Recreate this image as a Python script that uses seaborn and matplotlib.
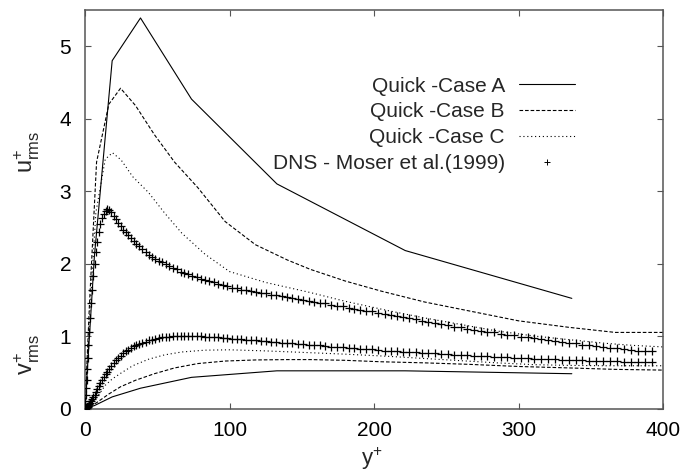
import matplotlib
matplotlib.use("Agg")
import matplotlib.pyplot as plt
from matplotlib.lines import Line2D
import seaborn as sns

# ---- QUICK scheme, case A (coarse mesh) ----
a_yplus = [0.0, 6.5, 18.8, 38.4, 73.7, 132.8, 221.6, 336.9]
a_urms = [0.0, 2.1, 4.80, 5.39, 4.27, 3.10, 2.18, 1.52]
a_vrms = [0.0, 0.04, 0.16, 0.28, 0.43, 0.52, 0.52, 0.48]

# ---- QUICK scheme, case B ----
b_yplus = [0.0, 3.0, 8.0, 16.5, 24.6, 35.0, 48.0, 62.0, 78.0, 97.0, 118.0,
           140.0, 156.0, 180.0, 205.0, 235.0, 265.0, 300.0, 335.0, 367.0, 400.0]
b_urms = [0.0, 1.4, 3.4, 4.20, 4.42, 4.18, 3.78, 3.40, 3.05, 2.58, 2.26,
          2.05, 1.92, 1.76, 1.62, 1.47, 1.35, 1.21, 1.12, 1.05, 1.05]
b_vrms = [0.0, 0.02, 0.08, 0.20, 0.30, 0.39, 0.48, 0.56, 0.62, 0.655, 0.67,
          0.675, 0.675, 0.665, 0.645, 0.63, 0.61, 0.58, 0.56, 0.54, 0.53]

# ---- QUICK scheme, case C ----
c_yplus = [0.0, 3.0, 7.5, 14.0, 19.0, 25.0, 33.0, 44.0, 55.0, 67.0, 83.0, 100.0,
           125.0, 156.0, 180.0, 210.0, 235.0, 260.0, 285.0, 311.0, 335.0, 360.0,
           380.0, 400.0]
c_urms = [0.0, 1.2, 2.7, 3.44, 3.53, 3.43, 3.20, 2.98, 2.70, 2.42, 2.13, 1.89,
          1.74, 1.60, 1.48, 1.35, 1.25, 1.16, 1.07, 1.00, 0.95, 0.90, 0.87, 0.85]
c_vrms = [0.0, 0.03, 0.13, 0.32, 0.41, 0.49, 0.59, 0.68, 0.74, 0.78, 0.805, 0.81,
          0.795, 0.77, 0.75, 0.72, 0.69, 0.66, 0.63, 0.605, 0.595, 0.59, 0.59, 0.59]

# ---- DNS, Moser, Kim & Mansour (1999), Re_tau = 395 ----
dns_yplus = [
    0.0, 0.03, 0.12, 0.27, 0.47, 0.74, 1.06, 1.45, 1.89, 2.39,
    2.95, 3.57, 4.25, 4.98, 5.78, 6.63, 7.54, 8.51, 9.53, 10.61,
    11.76, 12.95, 14.21, 15.52, 16.89, 18.32, 19.80, 21.34, 22.93, 24.58,
    26.28, 28.04, 29.86, 31.73, 33.65, 35.63, 37.66, 39.74, 41.88, 44.07,
    46.32, 48.61, 50.96, 53.36, 55.81, 58.31, 60.86, 63.46, 66.10, 68.80,
    71.55, 74.35, 77.19, 80.08, 83.02, 86.00, 89.04, 92.11, 95.23, 98.40,
    101.61, 104.86, 108.16, 111.50, 114.89, 118.31, 121.78, 125.28, 128.83, 132.41,
    136.04, 139.70, 143.41, 147.15, 150.92, 154.73, 158.58, 162.47, 166.39, 170.34,
    174.32, 178.34, 182.39, 186.48, 190.59, 194.73, 198.91, 203.11, 207.34, 211.60,
    215.88, 220.20, 224.54, 228.90, 233.29, 237.70, 242.14, 246.59, 251.08, 255.58,
    260.10, 264.64, 269.20, 273.78, 278.38, 282.99, 287.63, 292.27, 296.93, 301.61,
    306.30, 311.00, 315.72, 320.45, 325.18, 329.93, 334.69, 339.45, 344.23, 349.01,
    353.79, 358.59, 363.39, 368.19, 372.99, 377.80, 382.61, 387.43, 392.24]
dns_urms = [
    0.0, 0.01, 0.045, 0.10, 0.18, 0.28, 0.40, 0.54, 0.70, 0.87,
    1.06, 1.25, 1.45, 1.64, 1.83, 2.00, 2.16, 2.30, 2.43, 2.54,
    2.63, 2.69, 2.73, 2.75, 2.74, 2.71, 2.66, 2.61, 2.56, 2.52,
    2.47, 2.43, 2.39, 2.35, 2.31, 2.27, 2.24, 2.20, 2.16, 2.12,
    2.09, 2.07, 2.04, 2.02, 1.99, 1.97, 1.94, 1.92, 1.89, 1.87,
    1.85, 1.83, 1.81, 1.79, 1.77, 1.76, 1.74, 1.72, 1.70, 1.69,
    1.67, 1.66, 1.64, 1.63, 1.62, 1.61, 1.60, 1.59, 1.57, 1.56,
    1.55, 1.54, 1.52, 1.51, 1.50, 1.48, 1.47, 1.46, 1.45, 1.43,
    1.42, 1.41, 1.39, 1.38, 1.36, 1.35, 1.34, 1.32, 1.31, 1.29,
    1.28, 1.26, 1.25, 1.23, 1.21, 1.20, 1.18, 1.17, 1.15, 1.13,
    1.12, 1.10, 1.09, 1.07, 1.06, 1.05, 1.03, 1.02, 1.01, 0.99,
    0.98, 0.97, 0.96, 0.94, 0.93, 0.92, 0.91, 0.90, 0.88, 0.87,
    0.86, 0.85, 0.84, 0.83, 0.82, 0.81, 0.80, 0.795, 0.79]
dns_vrms = [
    0.0, 0.0, 0.0, 0.001, 0.002, 0.005, 0.009, 0.016, 0.026, 0.039,
    0.056, 0.077, 0.10, 0.13, 0.16, 0.19, 0.23, 0.27, 0.31, 0.35,
    0.39, 0.43, 0.47, 0.51, 0.55, 0.59, 0.63, 0.67, 0.70, 0.73,
    0.76, 0.79, 0.81, 0.84, 0.86, 0.88, 0.89, 0.91, 0.92, 0.94,
    0.95, 0.96, 0.97, 0.98, 0.985, 0.99, 0.995, 1.0, 1.0, 1.0,
    1.0, 1.0, 1.0, 0.995, 0.99, 0.99, 0.985, 0.98, 0.975, 0.97,
    0.965, 0.96, 0.955, 0.95, 0.945, 0.94, 0.935, 0.93, 0.92, 0.915,
    0.91, 0.905, 0.90, 0.89, 0.885, 0.88, 0.875, 0.87, 0.86, 0.855,
    0.85, 0.845, 0.84, 0.83, 0.825, 0.82, 0.815, 0.81, 0.80, 0.795,
    0.79, 0.785, 0.78, 0.775, 0.77, 0.765, 0.76, 0.755, 0.75, 0.745,
    0.74, 0.735, 0.73, 0.725, 0.72, 0.715, 0.71, 0.705, 0.70, 0.70,
    0.695, 0.69, 0.685, 0.68, 0.68, 0.675, 0.67, 0.67, 0.665, 0.66,
    0.66, 0.655, 0.65, 0.65, 0.645, 0.645, 0.64, 0.64, 0.64]

labels = ["Quick -Case A", "Quick -Case B", "Quick -Case C", "DNS - Moser et al.(1999)"]
x_ticks = [0, 100, 200, 300, 400]
y_ticks = [0, 1, 2, 3, 4, 5]

sns.set_theme(style="ticks")
plt.rcParams["font.family"] = ["Liberation Sans", "DejaVu Sans"]
plt.rcParams["mathtext.fontset"] = "custom"
plt.rcParams["mathtext.rm"] = "Liberation Sans"
plt.rcParams["mathtext.it"] = "Liberation Sans"
plt.rcParams["lines.scale_dashes"] = False

FS = 15
NAME_FS = 17
AXC = "#555555"
solid = "-"
dashed = (0, (2.6, 1.4))
dotted = (0, (0.8, 2.0))
LW = 0.8

fig = plt.figure(figsize=(6.85, 4.76), dpi=100)
ax = fig.add_axes([85 / 685, (476 - 408.5) / 476, 578 / 685, 398.5 / 476])

for ys, us, vs, ls in [(a_yplus, a_urms, a_vrms, solid),
                       (b_yplus, b_urms, b_vrms, dashed),
                       (c_yplus, c_urms, c_vrms, dotted)]:
    sns.lineplot(x=ys, y=us, ax=ax, color="black", lw=LW, linestyle=ls,
                 sort=False, estimator=None)
    sns.lineplot(x=ys, y=vs, ax=ax, color="black", lw=LW, linestyle=ls,
                 sort=False, estimator=None)

for vals in (dns_urms, dns_vrms):
    sns.scatterplot(x=dns_yplus, y=vals, ax=ax, marker="+", color="black",
                    s=26, linewidth=0.9, zorder=3)

ax.set_xlim(0, 400)
ax.set_ylim(0, 5.5)
ax.set_xticks(x_ticks)
ax.set_yticks(y_ticks)
ax.set_xlabel("")
ax.set_ylabel("")
ax.tick_params(direction="in", top=True, right=True, length=4.5, width=0.8,
               color=AXC, labelcolor="black", labelsize=FS)
ax.tick_params(axis="x", pad=9)
ax.tick_params(axis="y", pad=10)
for sp in ax.spines.values():
    sp.set_visible(True)
    sp.set_color(AXC)
    sp.set_linewidth(1.1)

handles = [Line2D([], [], color="black", lw=LW, linestyle=solid),
           Line2D([], [], color="black", lw=LW, linestyle=dashed),
           Line2D([], [], color="black", lw=LW, linestyle=dotted),
           Line2D([], [], color="black", marker="+", linestyle="none",
                  markersize=4, markeredgewidth=0.7)]
ax.legend(handles, labels, loc="upper right", bbox_to_anchor=(0.848, 0.833),
          markerfirst=False, frameon=False, fontsize=FS, handlelength=2.7,
          handletextpad=0.67, labelspacing=0.33, borderaxespad=0, borderpad=0)

# axis names: u'+ and v'+ stacked on the left, y+ below
fig.text(27 / 685, 1 - 152 / 476, r"$\mathrm{u^{+}_{rms}}$", rotation=90,
         ha="center", va="center", fontsize=NAME_FS)
fig.text(27 / 685, 1 - 355 / 476, r"$\mathrm{v^{+}_{rms}}$", rotation=90,
         ha="center", va="center", fontsize=NAME_FS)
fig.text(372 / 685, 1 - 459 / 476, r"$\mathrm{y^{+}}$", ha="center",
         va="center", fontsize=16)

fig.savefig("out.png", dpi=100)
